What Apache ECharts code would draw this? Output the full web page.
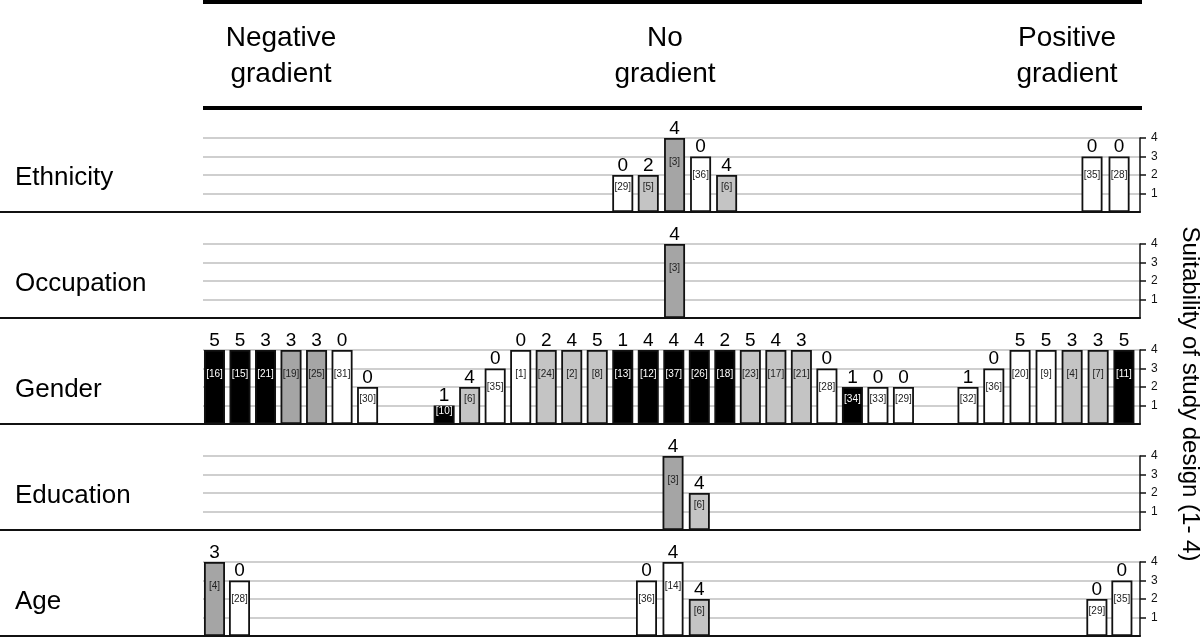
<!DOCTYPE html>
<html>
<head>
<meta charset="utf-8">
<script src="https://cdn.jsdelivr.net/npm/echarts@6/dist/echarts.min.js"></script>
<style>
html,body{margin:0;padding:0;background:#fff;}
#chart{width:1200px;height:639px;}
</style>
</head>
<body>
<div id="chart"></div>
<script>
// ---------- DATA ----------
const rowNames = ['Ethnicity', 'Occupation', 'Gender', 'Education', 'Age'];
const gradientHeaders = ['Negative\ngradient', 'No\ngradient', 'Positive\ngradient'];
const yTickLabels = [1, 2, 3, 4];
const axisTitle = 'Suitability of study design (1- 4)';

// slot = horizontal position of each bar (column index across the plot)
const ethnicitySlots   = [16, 17, 18.03, 19.05, 20.07, 34.39, 35.45];
const ethnicityRefs    = ['[29]', '[5]', '[3]', '[36]', '[6]', '[35]', '[28]'];
const ethnicityDesign  = [2, 2, 4, 3, 2, 3, 3];
const ethnicityCounts  = [0, 2, 4, 0, 4, 0, 0];
const ethnicityShades  = ['W', 'L', 'D', 'W', 'L', 'W', 'W'];

const occupationSlots  = [18.03];
const occupationRefs   = ['[3]'];
const occupationDesign = [4];
const occupationCounts = [4];
const occupationShades = ['D'];

const genderSlots  = [0, 1, 2, 3, 4, 5, 6, 9, 10, 11, 12, 13, 14, 15, 16, 17, 18, 19, 20, 21, 22, 23, 24, 25, 26, 27,
                      29.53, 30.54, 31.57, 32.59, 33.61, 34.63, 35.64];
const genderRefs   = ['[16]', '[15]', '[21]', '[19]', '[25]', '[31]', '[30]', '[10]', '[6]', '[35]', '[1]', '[24]', '[2]',
                      '[8]', '[13]', '[12]', '[37]', '[26]', '[18]', '[23]', '[17]', '[21]', '[28]', '[34]', '[33]', '[29]',
                      '[32]', '[36]', '[20]', '[9]', '[4]', '[7]', '[11]'];
const genderDesign = [4, 4, 4, 4, 4, 4, 2, 1, 2, 3, 4, 4, 4, 4, 4, 4, 4, 4, 4, 4, 4, 4, 3, 2, 2, 2, 2, 3, 4, 4, 4, 4, 4];
const genderCounts = [5, 5, 3, 3, 3, 0, 0, 1, 4, 0, 0, 2, 4, 5, 1, 4, 4, 4, 2, 5, 4, 3, 0, 1, 0, 0, 1, 0, 5, 5, 3, 3, 5];
const genderShades = ['B', 'B', 'B', 'D', 'D', 'W', 'W', 'B', 'L', 'W', 'W', 'L', 'L', 'L', 'B', 'B', 'B', 'B', 'B', 'L',
                      'L', 'L', 'W', 'B', 'W', 'W', 'W', 'W', 'W', 'W', 'L', 'L', 'B'];

const educationSlots  = [17.97, 19];
const educationRefs   = ['[3]', '[6]'];
const educationDesign = [4, 2];
const educationCounts = [4, 4];
const educationShades = ['D', 'L'];

const ageSlots  = [0, 0.98, 16.93, 17.97, 19, 34.58, 35.56];
const ageRefs   = ['[4]', '[28]', '[36]', '[14]', '[6]', '[29]', '[35]'];
const ageDesign = [4, 3, 3, 4, 2, 2, 3];
const ageCounts = [3, 0, 0, 4, 4, 0, 0];
const ageShades = ['D', 'W', 'W', 'W', 'L', 'W', 'W'];

// ---------- STYLE / LAYOUT ----------
const shadeColor = { W: '#ffffff', L: '#c4c4c4', D: '#a5a5a5', B: '#000000' };
const refTextColor = { W: '#222', L: '#222', D: '#222', B: '#ffffff' };
const FONT = '"Liberation Sans", Arial, Helvetica, sans-serif';

const rows = [
  { slots: ethnicitySlots, refs: ethnicityRefs, design: ethnicityDesign, counts: ethnicityCounts, shades: ethnicityShades },
  { slots: occupationSlots, refs: occupationRefs, design: occupationDesign, counts: occupationCounts, shades: occupationShades },
  { slots: genderSlots, refs: genderRefs, design: genderDesign, counts: genderCounts, shades: genderShades },
  { slots: educationSlots, refs: educationRefs, design: educationDesign, counts: educationCounts, shades: educationShades },
  { slots: ageSlots, refs: ageRefs, design: ageDesign, counts: ageCounts, shades: ageShades }
];

const baselines = [212, 318, 424, 530, 636];
const plotLeft = 203, plotRight = 1140, rowHeight = 74;

const grids = [], xAxes = [], yAxes = [], series = [], graphics = [];

rows.forEach((r, i) => {
  grids.push({ left: plotLeft, width: plotRight - plotLeft, top: baselines[i] - rowHeight, height: rowHeight, outerBoundsMode: 'none' });
  xAxes.push({
    type: 'value', gridIndex: i, min: -0.45, max: 36.27,
    axisLine: { show: true, onZero: false, lineStyle: { color: '#111', width: 2 } },
    axisTick: { show: false }, axisLabel: { show: false }, splitLine: { show: false }
  });
  yAxes.push({
    type: 'value', gridIndex: i, position: 'right', min: 0, max: 4, interval: 1,
    axisLine: { show: true, onZero: false, lineStyle: { color: '#111', width: 1.5 } },
    axisTick: { show: true, length: 6, customValues: yTickLabels, lineStyle: { color: '#111', width: 1.5 } },
    axisLabel: { show: true, customValues: yTickLabels, fontSize: 12, color: '#111', margin: 11, fontFamily: FONT },
    splitLine: { show: true, lineStyle: { color: '#bfbfbf', width: 1.6 } }
  });
  const barData = r.slots.map((s, k) => ({
    value: [s, r.design[k]],
    count: r.counts[k],
    itemStyle: { color: shadeColor[r.shades[k]] }
  }));
  const refData = r.slots.map((s, k) => ({
    value: [s, r.design[k]],
    ref: r.refs[k],
    label: { color: refTextColor[r.shades[k]] }
  }));
  series.push({
    type: 'bar', xAxisIndex: i, yAxisIndex: i, barWidth: 21, barGap: '-100%',
    data: barData,
    itemStyle: { borderColor: '#111', borderWidth: 1.8 },
    label: {
      show: true, position: 'top', distance: 0, fontSize: 19, color: '#000', fontFamily: FONT,
      formatter: p => String(p.data.count)
    },
    silent: true
  });
  series.push({
    type: 'bar', xAxisIndex: i, yAxisIndex: i, barWidth: 21, barGap: '-100%',
    data: refData,
    itemStyle: { color: 'rgba(0,0,0,0)', borderWidth: 0 },
    label: {
      show: true, position: ['50%', '33%'], align: 'center', verticalAlign: 'middle',
      fontSize: 10, fontFamily: FONT, formatter: p => p.data.ref
    },
    silent: true
  });
  // left extension of the row baseline and row label
  graphics.push({
    type: 'line', shape: { x1: 0, y1: baselines[i], x2: plotLeft, y2: baselines[i] },
    style: { stroke: '#111', lineWidth: 2 }
  });
  graphics.push({
    type: 'text', x: 15, y: baselines[i] - 34,
    style: { text: rowNames[i], font: '26px ' + FONT, fill: '#000', textAlign: 'left', textVerticalAlign: 'middle' }
  });
});

// header rules
graphics.push({ type: 'line', shape: { x1: plotLeft, y1: 2, x2: plotRight + 2, y2: 2 }, style: { stroke: '#000', lineWidth: 4 } });
graphics.push({ type: 'line', shape: { x1: plotLeft, y1: 108, x2: plotRight + 2, y2: 108 }, style: { stroke: '#000', lineWidth: 4 } });

const headerX = [281, 665, 1067];
gradientHeaders.forEach((h, k) => {
  graphics.push({
    type: 'text', x: headerX[k], y: 20,
    style: { text: h, font: '28px ' + FONT, lineHeight: 36, fill: '#000', textAlign: 'center', textVerticalAlign: 'top' }
  });
});

graphics.push({
  type: 'text', x: 1190, y: 394, rotation: -Math.PI / 2,
  style: { text: axisTitle, font: '24px ' + FONT, fill: '#000', textAlign: 'center', textVerticalAlign: 'middle' }
});

const chart = echarts.init(document.getElementById('chart'), null, { renderer: 'canvas' });
chart.setOption({
  animation: false,
  backgroundColor: '#fff',
  grid: grids,
  xAxis: xAxes,
  yAxis: yAxes,
  series: series,
  graphic: graphics
});
</script>
</body>
</html>
